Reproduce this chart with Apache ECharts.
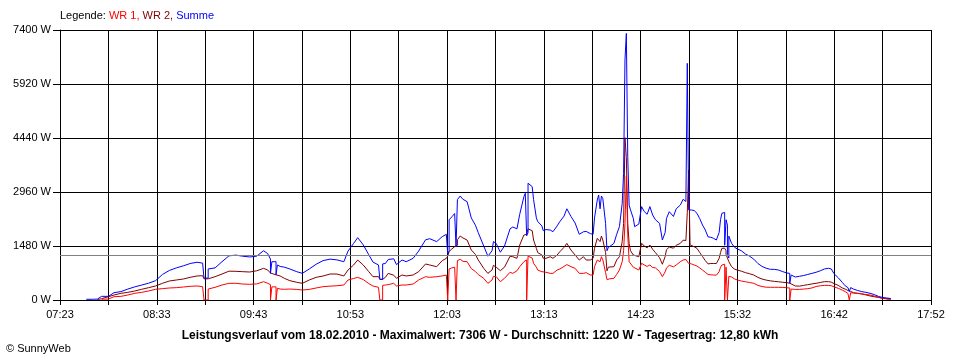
<!DOCTYPE html>
<html><head><meta charset="utf-8">
<script src="https://cdn.jsdelivr.net/npm/echarts@6/dist/echarts.min.js"></script>
<style>html,body{margin:0;padding:0;background:#fff}#c{width:960px;height:360px}</style>
</head><body><div id="c"></div>
<script>
const times = [
'07:42','07:47','07:50','07:53','07:58','08:02','08:07','08:12','08:17','08:22',
'08:27','08:32','08:37','08:42','08:47','08:52','08:57','09:02','09:06','09:07',
'09:07','09:10','09:10','09:15','09:20','09:25','09:30','09:35','09:40','09:45',
'09:50','09:53','09:55','09:55','09:56','09:56','09:59','09:59','10:00','10:00',
'10:02','10:05','10:09','10:14','10:18','10:23','10:28','10:33','10:38','10:43',
'10:48','10:51','10:55','10:58','11:02','11:06','11:09','11:13','11:14','11:14',
'11:16','11:16','11:18','11:20','11:24','11:26','11:30','11:33','11:38','11:42',
'11:47','11:50','11:55','11:59','12:02','12:03','12:03','12:04','12:04','12:06',
'12:08','12:09','12:09','12:10','12:10','12:11','12:12','12:14','12:17','12:20',
'12:23','12:25','12:29','12:32','12:35','12:36','12:38','12:41','12:44','12:48',
'12:50','12:53','12:55','12:58','12:59','13:00','13:00','13:01','13:01','13:02',
'13:04','13:05','13:07','13:08','13:11','13:12','13:14','13:17','13:19','13:22',
'13:24','13:27','13:29','13:30','13:32','13:35','13:38','13:41','13:43','13:46',
'13:48','13:49','13:51','13:52','13:53','13:54','13:55','13:57','13:58','13:59',
'14:00','14:03','14:05','14:07','14:09','14:10','14:11','14:12','14:13','14:14',
'14:15','14:17','14:18','14:21','14:22','14:23','14:25','14:27','14:29','14:31',
'14:33','14:36','14:38','14:40','14:41','14:43','14:46','14:48','14:51','14:53',
'14:55','14:56','14:57','14:58','14:59','15:01','15:03','15:05','15:07','15:09',
'15:11','15:13','15:15','15:17','15:19','15:20','15:21','15:22','15:23','15:23',
'15:24','15:24','15:25','15:25','15:26','15:26','15:28','15:30','15:32','15:35',
'15:38','15:41','15:44','15:47','15:50','15:53','15:56','15:59','16:02','16:05',
'16:08','16:10','16:10','16:11','16:11','16:14','16:17','16:20','16:23','16:26',
'16:29','16:32','16:35','16:38','16:40','16:42','16:45','16:48','16:50','16:52',
'16:53','16:53','16:54','16:54','16:56','16:59','17:02','17:05','17:08','17:11',
'17:14','17:17','17:20','17:23'];

const wr1 = [
null,null,null,20,27,90,100,137,183,210,
247,293,311,329,338,356,375,384,365,365,
0,0,300,348,411,457,457,438,430,440,
502,457,420,0,0,360,360,0,0,320,
300,293,300,290,274,290,330,365,380,390,
411,548,590,621,560,450,384,348,350,0,
0,400,411,420,457,384,411,411,438,548,
639,621,639,660,685,700,0,0,850,880,
900,920,0,0,1080,1100,1115,1060,1050,860,
780,700,594,457,548,650,640,502,594,760,
730,800,913,1050,1100,1100,0,0,1200,1233,
1150,1005,900,820,776,730,760,730,730,822,
850,920,970,987,913,868,730,730,749,685,
685,913,1096,1100,1050,1187,1100,750,560,560,
580,594,700,822,1050,1350,2100,3400,1800,1050,
1000,900,850,822,822,1005,960,920,960,890,
880,780,640,770,880,950,910,960,1050,1096,
1110,1100,1000,990,990,960,930,880,820,760,
700,690,685,680,776,900,959,990,980,0,
0,900,850,0,0,650,630,580,550,520,
500,480,457,400,370,350,348,348,348,345,
335,330,0,0,300,290,290,300,310,330,
370,390,400,400,390,360,320,270,230,180,
190,0,0,200,190,183,170,150,137,110,
75,50,35,25];

const wr2 = [
null,null,10,36,90,137,183,210,247,293,
338,384,457,521,548,575,621,658,666,666,
580,580,590,639,712,790,786,776,767,800,
868,822,740,712,712,700,690,685,685,670,
658,594,530,485,457,548,621,658,712,712,
658,822,959,1096,959,776,639,640,630,566,
566,620,621,730,680,594,685,658,685,776,
987,959,913,1078,1142,1200,1250,1330,1380,1400,
1461,1470,1461,1500,1650,1650,1754,1700,1644,1370,
1250,1100,868,730,822,950,900,804,900,1200,
1187,1142,1507,1781,1800,1800,1760,1850,1950,1964,
1900,1644,1416,1300,1233,1142,1142,1187,1142,1233,
1324,1444,1553,1520,1370,1233,1096,1187,1096,1096,
1142,1416,1690,1650,1600,1754,1644,1300,800,900,
880,913,1096,1187,1600,2100,4450,3900,2100,1550,
1350,1233,1200,1187,1187,1553,1480,1430,1507,1390,
1300,1160,980,1190,1380,1450,1420,1500,1553,1640,
1630,2400,3560,1510,1500,1460,1416,1300,1190,1080,
990,1000,1000,1000,1142,1300,1416,1430,1420,1400,
1350,1250,1200,1150,1100,1050,913,850,822,790,
750,720,685,620,575,545,525,510,500,485,
475,460,450,445,440,384,380,400,420,440,
457,480,502,502,490,450,400,330,300,260,
245,240,235,230,200,183,165,140,110,90,
70,46,30,20];

const summe = [
20,20,25,100,100,200,230,300,360,410,
460,530,700,810,880,935,1000,1035,1010,1010,
600,600,850,880,1050,1210,1230,1200,1180,1200,
1350,1270,1120,730,730,1050,1050,690,690,960,
920,900,850,776,730,850,980,1080,1120,1100,
1050,1340,1550,1708,1510,1240,1040,960,960,566,
566,990,1000,1110,1130,970,1096,1050,1142,1340,
1650,1680,1600,1736,1800,1850,1260,1350,2200,2280,
2370,2400,1461,1500,2750,2780,2850,2760,2695,2250,
2050,1850,1480,1200,1350,1600,1550,1310,1480,1950,
2000,1950,2350,2830,2924,2924,1760,1850,3200,3243,
3106,2750,2250,2150,2030,1900,1930,1918,1872,2030,
2150,2300,2500,2513,2290,2110,1800,1870,1880,1820,
1800,2250,2741,2878,2500,2850,2780,2100,1350,1440,
1460,1550,1800,2010,2650,3470,6580,7306,3930,2600,
2470,2239,2010,2080,2050,2558,2420,2350,2560,2330,
2200,2100,1644,1850,2239,2420,2290,2500,2604,2760,
2700,6486,2470,2460,2467,2450,2376,2230,2055,1918,
1730,1720,1690,1644,1850,2200,2376,2420,2400,1500,
1450,2200,2050,1250,1150,1750,1553,1450,1400,1352,
1260,1200,1120,1000,920,870,840,840,820,776,
740,730,457,450,685,630,650,670,700,730,
760,800,850,870,850,720,610,480,390,340,
340,235,235,340,300,260,230,210,183,150,
100,70,55,40];

const xTickLabels = ['07:23','','08:33','','09:43','','10:53','','12:03','','13:13','','14:23','','15:32','','16:42','','17:52'];
const yMax = 7400;
const yStep = 1480;
const average = 1220;
const dayStart = '07:23';
const dayEnd = '17:52';

function minutes(t){ const p = t.split(':').map(Number); return p[0]*60 + p[1]; }
const SPLITS = xTickLabels.length - 1;           // 18 grid intervals
const START = minutes(dayStart);
const span = (minutes(dayEnd) - START) * SPLITS; // x unit = 1/18 minute
const step = span / SPLITS;
function toX(t){ return (minutes(t) - START) * SPLITS; }
function pairs(vals){ return times.map((t,i) => [toX(t), vals[i]]); }

const FONT = 'Liberation Sans, Arial, sans-serif';
const chart = echarts.init(document.getElementById('c'), null, {renderer:'canvas'});
chart.setOption({
  animation: false,
  backgroundColor: '#fff',
  textStyle: {fontFamily: FONT},
  title: [
    {left: 60, top: 10, padding: 0,
     text: '{k|Legende:} {r|WR 1,} {m|WR 2,} {b|Summe}',
     textStyle: {fontSize: 11, fontWeight: 'normal', fontFamily: FONT,
       rich: {k:{color:'#000',fontSize:11,fontFamily:FONT}, r:{color:'#ff0000',fontSize:11,fontFamily:FONT},
              m:{color:'#800000',fontSize:11,fontFamily:FONT}, b:{color:'#0000ff',fontSize:11,fontFamily:FONT}}}},
    {left: 'center', top: 330, padding: 0,
     text: 'Leistungsverlauf vom 18.02.2010 - Maximalwert: 7306 W - Durchschnitt: 1220 W - Tagesertrag: 12,80 kWh',
     textStyle: {fontSize: 12, fontWeight: 'bold', color: '#000', fontFamily: FONT}},
    {left: 6, top: 343, padding: 0, text: '\u00a9 SunnyWeb',
     textStyle: {fontSize: 11, fontWeight: 'normal', color: '#000', fontFamily: FONT}}
  ],
  grid: {left: 60, right: 29, top: 30, bottom: 60, containLabel: false, outerBoundsMode: 'none'},
  xAxis: {
    type: 'value', min: 0, max: span, interval: step,
    axisLine: {show: true, lineStyle: {color: '#000', width: 1}},
    axisTick: {show: true, length: 5, lineStyle: {color: '#000', width: 1}},
    axisLabel: {margin: 9, color: '#000', fontSize: 11, fontFamily: FONT,
      formatter: v => { const i = Math.round(v / step); return xTickLabels[i] !== undefined ? xTickLabels[i] : ''; }},
    splitLine: {show: true, lineStyle: {color: '#000', width: 1}}
  },
  yAxis: {
    type: 'value', min: 0, max: yMax, interval: yStep,
    axisLine: {show: true, lineStyle: {color: '#000', width: 1}},
    axisTick: {show: true, length: 7, lineStyle: {color: '#000', width: 1}},
    axisLabel: {margin: 9, color: '#000', fontSize: 11, fontFamily: FONT, formatter: v => v + ' W'},
    splitLine: {show: true, lineStyle: {color: '#000', width: 1}}
  },
  series: [
    {name: 'WR 2', type: 'line', data: pairs(wr2), symbol: 'none', silent: true,
     lineStyle: {color: '#800000', width: 1}, itemStyle: {color: '#800000'},
     markLine: {silent: true, symbol: 'none', label: {show: false},
       lineStyle: {color: '#808080', type: 'solid', width: 1}, data: [{yAxis: average}]}},
    {name: 'WR 1', type: 'line', data: pairs(wr1), symbol: 'none', silent: true,
     lineStyle: {color: '#ff0000', width: 1}, itemStyle: {color: '#ff0000'}},
    {name: 'Summe', type: 'line', data: pairs(summe), symbol: 'none', silent: true,
     lineStyle: {color: '#0000ff', width: 1}, itemStyle: {color: '#0000ff'}}
  ]
});
</script></body></html>
